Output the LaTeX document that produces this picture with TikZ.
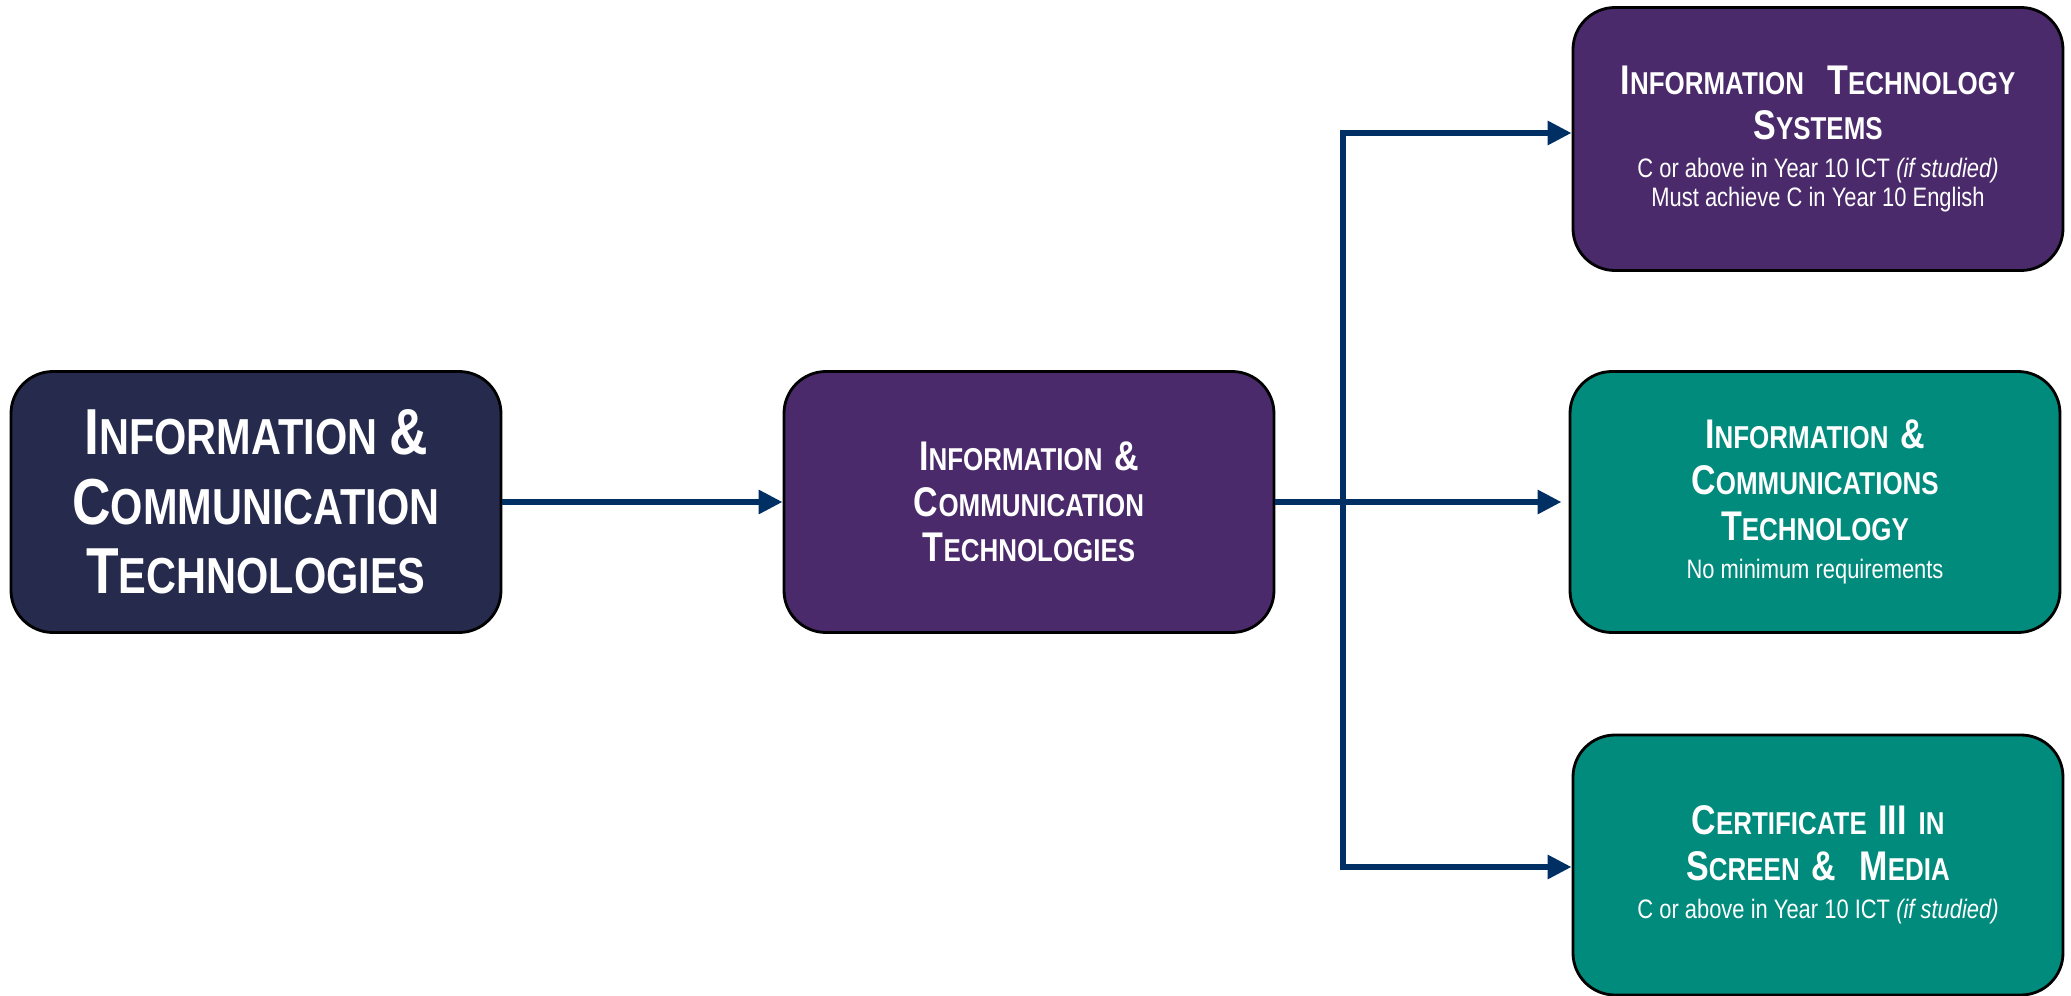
\documentclass[tikz,border=0pt]{standalone}
\usepackage{fontspec}
\setmainfont{Liberation Sans}[FakeStretch=0.82]
\usepackage{relsize}
\usetikzlibrary{arrows.meta,positioning}
\definecolor{ictnavy}{RGB}{38,43,78}
\definecolor{ictpurple}{RGB}{74,42,107}
\definecolor{ictteal}{RGB}{0,139,125}
\definecolor{ictline}{RGB}{0,48,99}
\newcommand{\capw}[2]{#1{\relscale{0.78}#2}}
\newcommand{\ttlfont}{\bfseries\fontsize{11.8}{13}\selectfont}
\newcommand{\subtxt}{\vspace{2.6pt}\fontsize{7.6}{8.2}\selectfont\spaceskip=0.23em\xspaceskip=0.23em}
\tikzstyle{course} = [draw=black, line width=0.8pt, rounded corners=0.42cm, minimum width=4.9cm, minimum height=2.61cm, text width=4.8cm, align=center, text=white, inner sep=0pt]
\tikzstyle{arrow} = [line width=1.7pt, color=ictline, -{Triangle[length=0.24cm,width=0.23cm]}]

\begin{document}
\begin{tikzpicture}
\useasboundingbox (0,0) rectangle (20.71,9.95);

% Year 10 subject
\node[course, fill=ictnavy] (ict) at (2.56,4.93) {\bfseries\fontsize{18.5}{19.8}\selectfont
  \capw{I}{NFORMATION} \&\\ \capw{C}{OMMUNICATION}\\ \capw{T}{ECHNOLOGIES}\par};

% Year 11 subject
\node[course, fill=ictpurple] (ictb) at (10.29,4.93) {\ttlfont
  \capw{I}{NFORMATION} \&\\ \capw{C}{OMMUNICATION}\\ \capw{T}{ECHNOLOGIES}\par};

% Senior courses
\node[course, fill=ictpurple, minimum height=2.63cm] (its) at (18.18,8.56) {{\ttlfont
  \capw{I}{NFORMATION}\ \ \capw{T}{ECHNOLOGY}\\ \capw{S}{YSTEMS}\par}%
  {\subtxt C or above in Year 10 ICT \textit{(if studied)}\\ Must achieve C in Year 10 English\par}};
\node[course, fill=ictteal] (ictc) at (18.15,4.93) {{\ttlfont
  \capw{I}{NFORMATION} \&\\ \capw{C}{OMMUNICATIONS}\\ \capw{T}{ECHNOLOGY}\par}%
  {\subtxt No minimum requirements\par}};
\node[course, fill=ictteal, minimum height=2.6cm] (cert) at (18.18,1.3) {{\ttlfont
  \capw{C}{ERTIFICATE} III {\relscale{0.78}IN}\\ \capw{S}{CREEN} \&\ \ \capw{M}{EDIA}\par}%
  {\subtxt C or above in Year 10 ICT \textit{(if studied)}\par}};

% Connectors
\coordinate (split) at (13.43,4.93);
\draw[arrow] (ict.east) -- (ictb.west);
\draw[arrow, shorten >=2pt] (ictb.east) -- (ictc.west);
\draw[arrow] (split) |- ([yshift=0.06cm]its.west);
\draw[arrow] (split) |- ([yshift=-0.02cm]cert.west);
\end{tikzpicture}
\end{document}
